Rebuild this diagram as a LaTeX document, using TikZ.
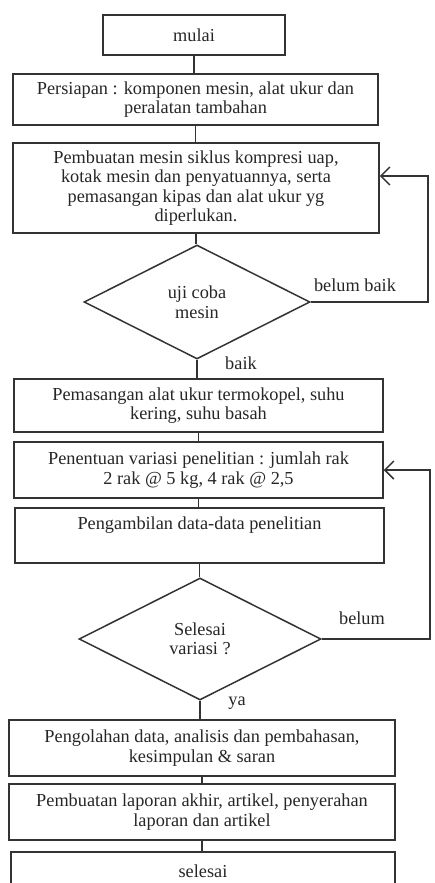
\documentclass[tikz,border=0pt]{standalone}
\usepackage{fontspec}
\setmainfont{Liberation Serif}
\usetikzlibrary{shapes.geometric,arrows.meta}
\begin{document}
\begin{tikzpicture}[x=1pt,y=-1pt,
  every node/.style={text=black!85,font=\fontsize{18.3}{19.5}\selectfont},
  box/.style={draw=black!80,line width=1.5pt,rectangle,inner sep=0pt,align=center},
  dec/.style={draw=black!80,line width=1.5pt,diamond,inner sep=0pt,align=center},
  conn/.style={draw=black!80,line width=1.5pt},
  lbl/.style={inner sep=1pt},
  barb/.style={-{Straight Barb[length=9pt,width=18pt,line width=1.5pt]}}
]
\useasboundingbox (0,0) rectangle (434,883);
\begin{scope}
\clip (0,0) rectangle (434,883);
\node[box,minimum width=182pt,minimum height=40pt] (mulai) at (194,35) {mulai};
\node[box,minimum width=365pt,minimum height=51pt] (persiapan) at (195.5,99.5) {Persiapan : komponen mesin, alat ukur dan\\peralatan tambahan};
\node[box,minimum width=366pt,minimum height=90pt] (pembuatan) at (196,188) {Pembuatan mesin siklus kompresi uap,\\kotak mesin dan penyatuannya, serta\\pemasangan kipas dan alat ukur yg\\diperlukan.};
\node[dec,minimum width=226pt,minimum height=114pt,aspect=1.98] (uji) at (197,302) {uji coba\\mesin};
\node[box,minimum width=369pt,minimum height=53pt] (pasang) at (198.5,405.5) {Pemasangan alat ukur termokopel, suhu\\kering, suhu basah};
\node[box,minimum width=369pt,minimum height=56pt] (tentu) at (198.5,470) {Penentuan variasi penelitian : jumlah rak\\2 rak @ 5 kg, 4 rak @ 2,5};
\node[box,minimum width=369pt,minimum height=55pt] (ambil) at (199.5,535.5) {Pengambilan data-data penelitian\\\strut};
\node[dec,minimum width=242pt,minimum height=122pt,aspect=1.98] (selvar) at (200,639) {Selesai\\variasi ?};
\node[box,minimum width=386pt,minimum height=56pt] (olah) at (202,748) {Pengolahan data, analisis dan pembahasan,\\kesimpulan \& saran};
\node[box,minimum width=386pt,minimum height=56pt] (lapor) at (202,812) {Pembuatan laporan akhir, artikel, penyerahan\\laporan dan artikel};
\node[box,minimum width=384pt,minimum height=38pt] (selesai) at (203,871) {selesai};

\draw[conn] (mulai.south) -- (mulai.south |- persiapan.north);
\draw[conn] (persiapan.south) -- (persiapan.south |- pembuatan.north);
\draw[conn] (pembuatan.south) -- (pembuatan.south |- uji.north);
\draw[conn] (uji.south) -- (uji.south |- pasang.north);
\draw[conn] (pasang.south) -- (pasang.south |- tentu.north);
\draw[conn] (tentu.south) -- (tentu.south |- ambil.north);
\draw[conn] (ambil.south) -- (ambil.south |- selvar.north);
\draw[conn] (selvar.south) -- (selvar.south |- olah.north);
\draw[conn] (olah.south) -- (olah.south |- lapor.north);
\draw[conn] (lapor.south) -- (lapor.south |- selesai.north);

\coordinate (r1) at (428,302);
\coordinate (in1) at (pembuatan.east |- 0,176);
\draw[conn,barb] (uji.east) -- (r1) |- (in1);
\coordinate (r2) at (430,639);
\draw[conn,barb] (selvar.east) -- (r2) |- (tentu.east);

\node[lbl] (lb1) at (355,285) {belum baik};
\node[lbl] (lb2) at (241,363) {baik};
\node[lbl] (lb3) at (362,618) {belum};
\node[lbl] (lb4) at (237,703) {ya};
\end{scope}
\end{tikzpicture}
\end{document}
